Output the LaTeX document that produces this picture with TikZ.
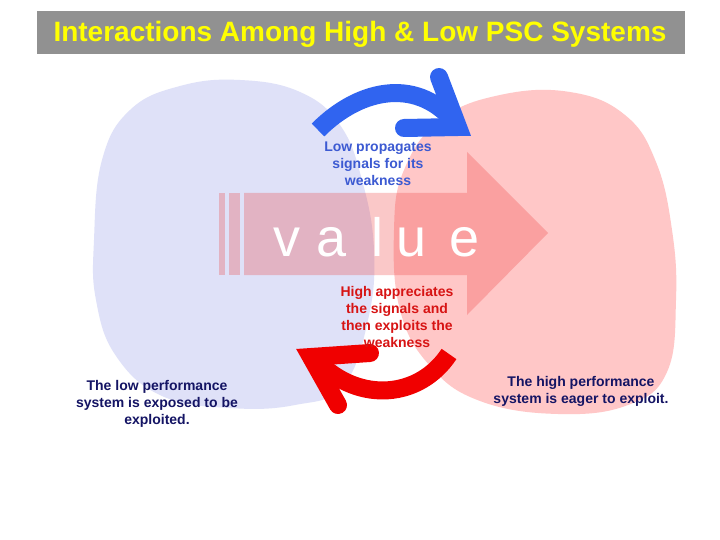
\documentclass[tikz,border=0pt]{standalone}
\usepackage{fontspec}
\setmainfont{Liberation Sans}
\usepackage{tikz}
\usetikzlibrary{positioning}
\definecolor{lowblue}{RGB}{223,225,248}
\definecolor{highpink}{RGB}{255,199,199}
\definecolor{titlegray}{RGB}{145,145,145}
\definecolor{titleyellow}{RGB}{255,255,0}
\definecolor{valuered}{RGB}{237,55,55}
\definecolor{signalblue}{RGB}{48,100,240}
\definecolor{exploitred}{RGB}{240,0,0}
\definecolor{lowtext}{RGB}{60,90,210}
\definecolor{hightext}{RGB}{215,20,20}
\definecolor{navytext}{RGB}{20,20,100}

\begin{document}
\begin{tikzpicture}[x=1pt, y=-1pt,
		caption/.style={align=center, inner sep=0pt, font=\fontsize{14}{17}\selectfont\bfseries},
		valueletter/.style={text=white, inner sep=0pt, font=\fontsize{54}{54}\selectfont},
		bendarrow/.style={line width=18pt, line join=miter}]
				\useasboundingbox (0,0) rectangle (720,540);
				\fill[white] (0,0) rectangle (720,540);
				% title bar
				\fill[titlegray] (37,11) rectangle (685,54);
				\node[text=titleyellow, font=\fontsize{28}{28}\selectfont\bfseries] (title) at (360,34) {Interactions Among High \& Low PSC Systems};
				% the two systems
				\fill[lowblue] plot[smooth cycle, tension=.7] coordinates {(94,240) (102,160) (130,110) (180,86) (240,80) (300,92) (340,125) (362,180) (374,250) (368,320) (343,386) (295,405) (230,408) (162,396) (116,356) (96,300)};
				\fill[highpink] plot[smooth cycle, tension=.7] coordinates {(394,230) (404,170) (440,120) (500,95) (570,92) (625,115) (656,162) (672,230) (676,300) (667,372) (628,405) (558,414) (480,401) (430,366) (400,310)};
				% value arrow
				\foreach \x/\w in {219/6,229/11} {
					\fill[valuered, opacity=.27] (\x,193) rectangle ++(\w,82);
				}
				\fill[valuered, opacity=.27] (244,193) -- (467,193) -- (467,152) -- (548,233) -- (467,315) -- (467,275) -- (244,275) -- cycle;
				\foreach \ch/\cx in {v/287,a/332,l/377,u/412,e/465} {
					\node[valueletter, anchor=base] (val-\ch) at (\cx,256) {\ch};
				}
				% low -> high
				\draw[bendarrow, signalblue] (318,130) .. controls (362,86) and (420,78) .. (456,124);
				\draw[bendarrow, signalblue, line cap=round] (439,77) -- (458,127) -- (404,128);
				% high -> low
				\draw[bendarrow, exploitred] (449,354) .. controls (420,398) and (360,404) .. (318,362);
				\draw[bendarrow, exploitred, line cap=round] (370,353) -- (311,357) -- (338,405);
				% labels
				\node[caption, text=lowtext] (lowsignal) at (378,164) {Low propagates\\signals for its\\weakness};
				\node[caption, text=hightext] (highexploit) at (397,317) {High appreciates\\the signals and\\then exploits the\\weakness};
				\node[caption, text=navytext] (lowsys) at (157,404) {The low performance\\system is exposed to be\\exploited.};
				\node[caption, text=navytext] (highsys) at (581,391) {The high performance\\system is eager to exploit.};
			\end{tikzpicture}
\end{document}
